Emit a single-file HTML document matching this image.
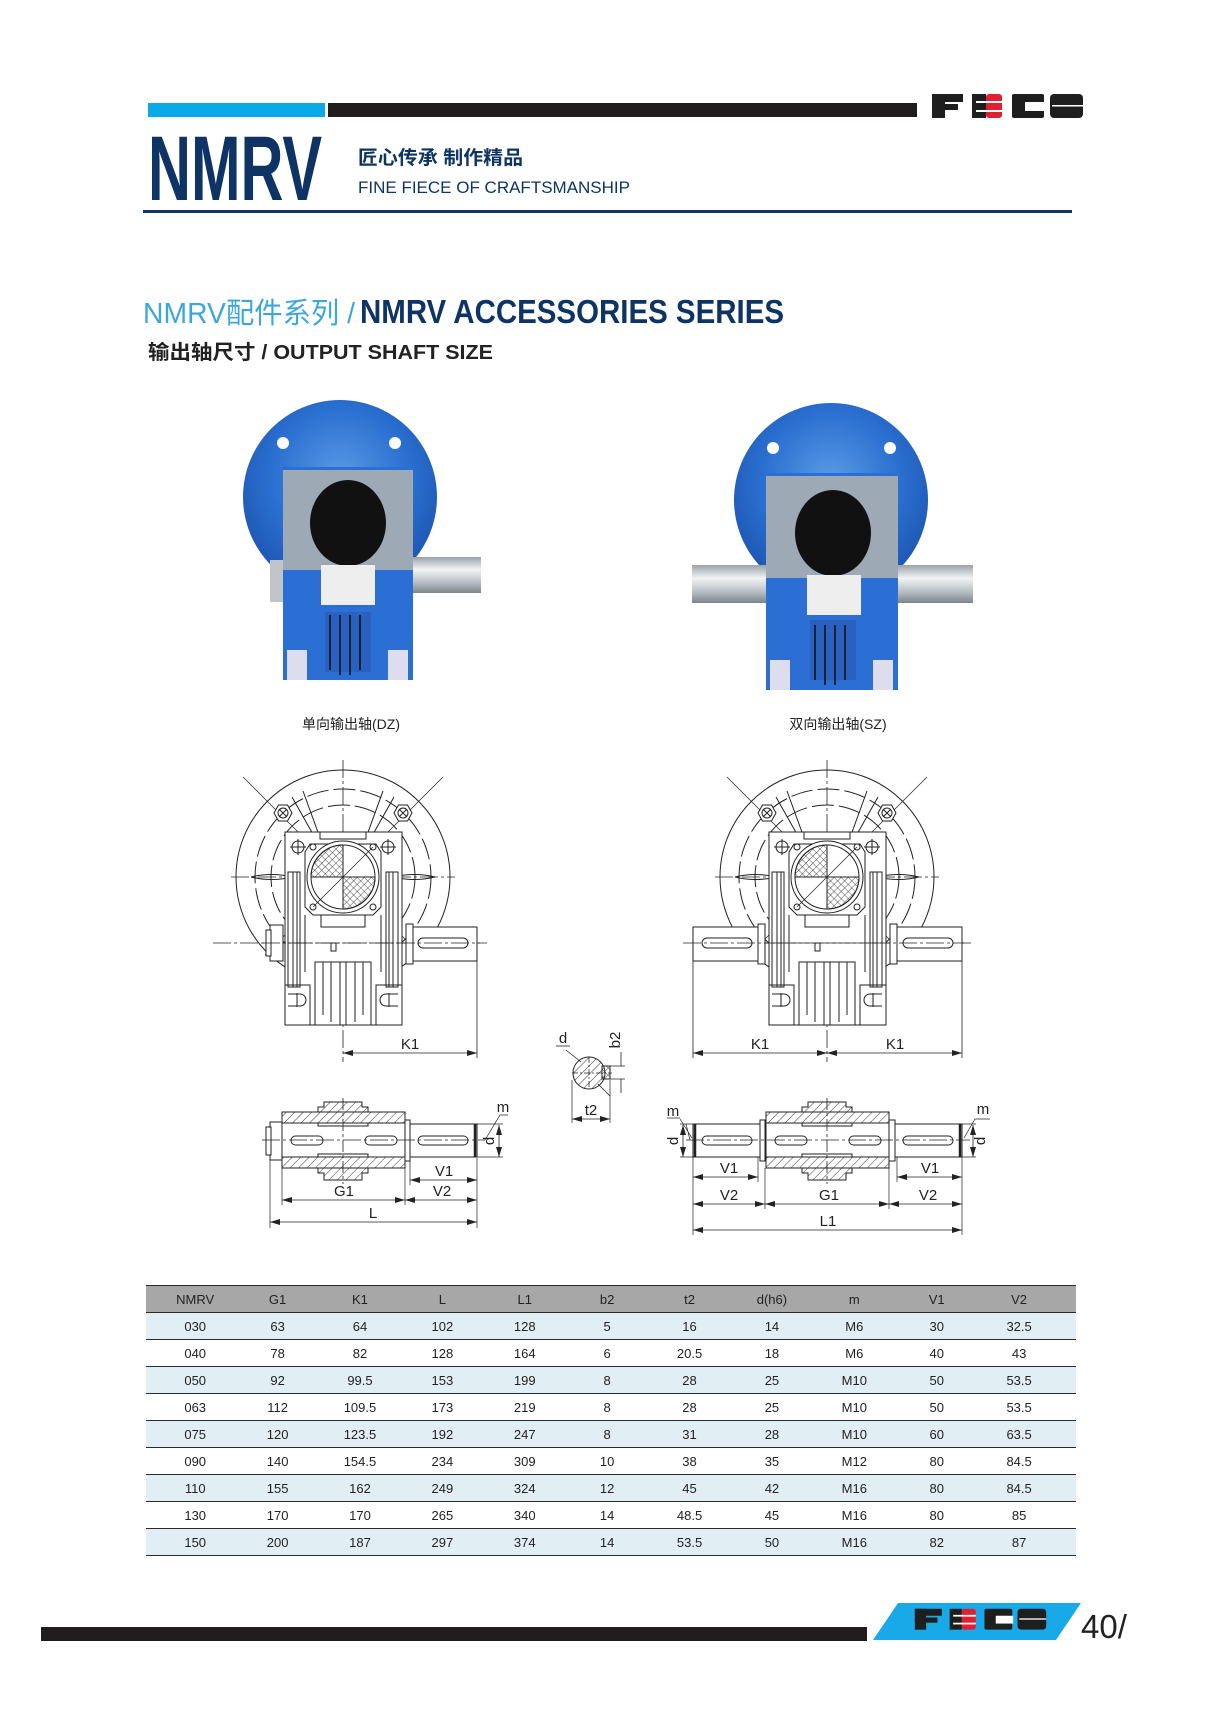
<!DOCTYPE html>
<html><head><meta charset="utf-8"><style>
html,body{margin:0;padding:0;background:#fff;}
body{width:1208px;height:1719px;position:relative;overflow:hidden;}
svg{position:absolute;left:0;top:0;}
table{position:absolute;left:146px;top:1285px;width:930px;border-collapse:collapse;font-family:"Liberation Sans Narrow","Liberation Sans",sans-serif;font-size:13px;color:#222;table-layout:fixed;}
td{height:26px;text-align:center;padding:0;border-bottom:1.3px solid #2a2a2a;}
tr.h td{background:#a8a7a7;border-top:1.5px solid #2a2a2a;height:26px;}
tr.a td{background:#e1eef4;}
</style></head><body>
<svg width="1208" height="1719" viewBox="0 0 1208 1719" xmlns="http://www.w3.org/2000/svg">
<defs>
<pattern id="hat" width="6" height="6" patternUnits="userSpaceOnUse" patternTransform="rotate(45)"><line x1="0" y1="0" x2="0" y2="6" stroke="#222" stroke-width="0.9"/></pattern>
<pattern id="xh" width="5" height="5" patternUnits="userSpaceOnUse" patternTransform="rotate(45)"><path d="M0 0V5M0 0H5" stroke="#222" stroke-width="0.8" fill="none"/></pattern>
<marker id="ar" markerWidth="10" markerHeight="6" refX="10" refY="3" orient="auto-start-reverse" markerUnits="userSpaceOnUse"><path d="M0 0L10 3L0 6z" fill="#222"/></marker>
<radialGradient id="blue" cx="0.5" cy="0.4" r="0.6"><stop offset="0" stop-color="#5a9ae6"/><stop offset="0.6" stop-color="#2a6fd0"/><stop offset="1" stop-color="#1d55b0"/></radialGradient>
<linearGradient id="steel" x1="0" y1="0" x2="0" y2="1"><stop offset="0" stop-color="#9aa3aa"/><stop offset="0.35" stop-color="#f2f4f5"/><stop offset="0.7" stop-color="#b8bfc4"/><stop offset="1" stop-color="#7d868c"/></linearGradient>
<g id="logo">
<rect x="932" y="94" width="13" height="24" fill="#1e1e1e"/><rect x="932" y="94" width="31" height="8" fill="#1e1e1e"/><rect x="932" y="104" width="26" height="6" fill="#1e1e1e"/>
<rect x="972" y="94" width="14" height="24" fill="#1e1e1e"/><rect x="986" y="94" width="16" height="24" rx="3" fill="#e02030"/>
<rect x="976" y="101" width="26" height="2" fill="#fff"/><rect x="976" y="110" width="26" height="2" fill="#fff"/>
<rect x="1012" y="94" width="32" height="24" rx="2" fill="#1e1e1e"/><rect x="1025" y="102" width="20" height="9" fill="#fff"/>
<rect x="1050" y="94" width="33" height="24" rx="4" fill="#1e1e1e"/><rect x="1052" y="105" width="31" height="1.5" fill="#fff"/>
</g>
<g id="front" fill="none" stroke="#222" stroke-width="1">
<circle r="107" fill="#fff"/>
<circle r="88" stroke-dasharray="22 5"/>
<circle r="72" stroke-dasharray="22 5"/>
<line x1="0" y1="-117" x2="0" y2="185" stroke-dasharray="18 3 3 3" stroke-width="0.8"/>
<line x1="-112" y1="0" x2="112" y2="0" stroke-dasharray="18 3 3 3" stroke-width="0.8"/>
<line x1="-78" y1="-78" x2="78" y2="78" stroke-width="0.7"/><line x1="78" y1="-78" x2="-78" y2="78" stroke-width="0.7"/>
<line x1="-78" y1="-78" x2="-100" y2="-100" stroke-width="0.7"/><line x1="78" y1="-78" x2="100" y2="-100" stroke-width="0.7"/>
<path d="M-51 -80 L-29 -41 M-40 -86 L-24 -42 M51 -80 L29 -41 M40 -86 L24 -42"/>
<path d="M-92 0 Q-72 -5 -50 0 Q-72 5 -92 0Z M92 0 Q72 -5 50 0 Q72 5 92 0Z"/>
<g transform="translate(-60,-64)" fill="#fff"><polygon points="-9,0 -4.5,-8 4.5,-8 9,0 4.5,8 -4.5,8"/><circle r="5"/><path d="M-3.5 -3.5L3.5 3.5M3.5 -3.5L-3.5 3.5"/></g>
<g transform="translate(60,-64)" fill="#fff"><polygon points="-9,0 -4.5,-8 4.5,-8 9,0 4.5,8 -4.5,8"/><circle r="5"/><path d="M-3.5 -3.5L3.5 3.5M3.5 -3.5L-3.5 3.5"/></g>
<rect x="-58" y="-45" width="117" height="193" fill="#fff"/>
<path d="M-23 -45 L-23 -38 L23 -38 L23 -45"/>
<path d="M-33 -33 L33 -33 L38 -25 L38 30 L30 38 L-30 38 L-38 30 L-38 -25Z"/>
<circle r="36" fill="#fff"/><circle r="32" fill="#fff"/>
<path d="M-32 0 A32 32 0 0 1 0 -32 L0 0Z" fill="url(#xh)"/>
<path d="M32 0 A32 32 0 0 1 0 32 L0 0Z" fill="url(#xh)"/>
<line x1="-30" y1="30" x2="30" y2="-30" stroke-width="0.7"/>
<circle cx="-30" cy="-30" r="3"/><circle cx="30" cy="-30" r="3"/><circle cx="-30" cy="30" r="3"/><circle cx="30" cy="30" r="3"/>
<circle cx="-45" cy="-30" r="6"/><path d="M-53 -30H-37M-45 -38V-22"/>
<circle cx="45" cy="-30" r="6"/><path d="M37 -30H53M45 -38V-22"/>
<rect x="-55" y="-5" width="12" height="115"/><rect x="43" y="-5" width="12" height="115"/>
<rect x="-50" y="-5" width="4" height="115"/><rect x="46" y="-5" width="4" height="115"/>
<path d="M-38 38 V95 M38 38 V95"/>
<rect x="-22" y="38" width="44" height="12"/>
<rect x="-12" y="66" width="5" height="8"/>
<rect x="-28" y="85" width="56" height="63"/>
<path d="M-20 85V138M-12 85V145M-3 85V148M3 85V148M12 85V145M20 85V138"/>
<rect x="-58" y="108" width="25" height="40"/><rect x="33" y="108" width="26" height="40"/>
<path d="M-55 117 h12 a6 6 0 0 1 0 12 h-12 M-46 116V130"/>
<path d="M55 117 h-12 a6 6 0 0 0 0 12 h12 M46 116V130"/>
<line x1="-130" y1="66" x2="140" y2="66" stroke-dasharray="18 3 3 3" stroke-width="0.8"/>
</g>
<g id="lower" fill="none" stroke="#222" stroke-width="1">
<path d="M-61 -28 H-25 V-33 H-19 V-38 H19 V-33 H25 V-28 H62 V-17 H-61Z" fill="url(#hat)"/>
<path d="M-61 28 H-25 V33 H-19 V40 H19 V33 H25 V28 H62 V17 H-61Z" fill="url(#hat)"/>
<rect x="-61" y="-28" width="123" height="56"/>
<path d="M-25 -17 V-14 H25 V-17 M-25 17 V14 H25 V17"/>
<line x1="0" y1="-42" x2="0" y2="44" stroke-dasharray="12 3 3 3" stroke-width="0.8"/>
<rect x="-52" y="-4" width="32" height="9" rx="4.5"/><rect x="22" y="-4" width="32" height="9" rx="4.5"/>
</g>
</defs>

<!-- header -->
<rect x="148" y="103" width="177" height="14" fill="#0aaaea"/>
<rect x="328" y="103" width="589" height="14" fill="#1f1d1d"/>
<use href="#logo"/>
<text x="148" y="200" font-family="Liberation Sans Narrow, Liberation Sans, sans-serif" font-weight="bold" font-size="92" fill="#0d3464" textLength="174" lengthAdjust="spacingAndGlyphs">NMRV</text>
<text x="358" y="164" font-family="Liberation Sans, Noto Sans CJK SC, sans-serif" font-weight="bold" font-size="19" fill="#0d3464" textLength="165" lengthAdjust="spacingAndGlyphs">匠心传承 制作精品</text>
<text x="358" y="193" font-family="Liberation Sans, sans-serif" font-size="17" fill="#0d3464" textLength="272" lengthAdjust="spacingAndGlyphs">FINE FIECE OF CRAFTSMANSHIP</text>
<rect x="143" y="210" width="929" height="3" fill="#0d3464"/>
<text x="143" y="323" font-family="Liberation Sans, Noto Sans CJK SC, sans-serif" font-size="29" fill="#3ea6de" textLength="212" lengthAdjust="spacingAndGlyphs">NMRV配件系列 /</text>
<text x="360" y="323" font-family="Liberation Sans Narrow, Liberation Sans, sans-serif" font-weight="bold" font-size="33" fill="#0d3464" textLength="424" lengthAdjust="spacingAndGlyphs">NMRV ACCESSORIES SERIES</text>
<text x="148" y="359" font-family="Liberation Sans, Noto Sans CJK SC, sans-serif" font-weight="bold" font-size="20" fill="#222" textLength="345" lengthAdjust="spacingAndGlyphs">输出轴尺寸 / OUTPUT SHAFT SIZE</text>

<!-- photos -->
<g>
<circle cx="340" cy="497" r="97" fill="url(#blue)"/>
<circle cx="283" cy="443" r="6" fill="#fff"/><circle cx="395" cy="443" r="6" fill="#fff"/>
<rect x="270" y="560" width="14" height="42" fill="#bfc5c9"/>
<rect x="410" y="557" width="71" height="36" fill="url(#steel)"/>
<rect x="283" y="467" width="130" height="213" fill="#2c6fd4"/>
<rect x="283" y="470" width="130" height="100" fill="#9ea9b6"/>
<ellipse cx="348" cy="523" rx="38" ry="43" fill="#111"/>
<rect x="321" y="565" width="54" height="40" fill="#eee"/>
<rect x="325" y="612" width="46" height="60" fill="#2a60c0"/>
<path d="M330 615V670M340 615V675M350 615V675M360 615V670" stroke="#123" stroke-width="2"/>
<rect x="287" y="650" width="20" height="30" fill="#dde"/><rect x="388" y="650" width="20" height="30" fill="#dde"/>
</g>
<g>
<circle cx="831" cy="500" r="97" fill="url(#blue)"/>
<circle cx="773" cy="448" r="6" fill="#fff"/><circle cx="890" cy="448" r="6" fill="#fff"/>
<rect x="692" y="565" width="74" height="38" fill="url(#steel)"/>
<rect x="896" y="565" width="77" height="38" fill="url(#steel)"/>
<rect x="766" y="473" width="132" height="217" fill="#2c6fd4"/>
<rect x="766" y="476" width="132" height="102" fill="#9ea9b6"/>
<ellipse cx="833" cy="533" rx="38" ry="43" fill="#111"/>
<rect x="807" y="575" width="54" height="40" fill="#eee"/>
<rect x="810" y="620" width="46" height="60" fill="#2a60c0"/>
<path d="M815 625V680M825 625V685M835 625V685M845 625V680" stroke="#123" stroke-width="2"/>
<rect x="770" y="660" width="20" height="30" fill="#dde"/><rect x="873" y="660" width="20" height="30" fill="#dde"/>
</g>
<text x="351" y="729" text-anchor="middle" font-family="Liberation Sans, Noto Sans CJK SC, sans-serif" font-size="14" fill="#222">单向输出轴(DZ)</text>
<text x="838" y="729" text-anchor="middle" font-family="Liberation Sans, Noto Sans CJK SC, sans-serif" font-size="14" fill="#222">双向输出轴(SZ)</text>

<!-- front views -->
<use href="#front" transform="translate(343,877)"/>
<use href="#front" transform="translate(827,877)"/>
<g fill="#fff" stroke="#222" stroke-width="1">
<rect x="270" y="925" width="13" height="36"/><rect x="266" y="930" width="5" height="26"/>
<rect x="412" y="927" width="65" height="34"/><rect x="406" y="924" width="7" height="40"/>
<rect x="693" y="927" width="65" height="34"/><rect x="758" y="924" width="7" height="40"/>
<rect x="897" y="927" width="65" height="34"/><rect x="890" y="924" width="7" height="40"/>
</g>
<g fill="none" stroke="#222" stroke-width="1">
<rect x="418" y="938" width="50" height="10" rx="5"/><rect x="702" y="938" width="50" height="10" rx="5"/><rect x="903" y="938" width="50" height="10" rx="5"/>
<line x1="262" y1="943" x2="487" y2="943" stroke-dasharray="18 3 3 3" stroke-width="0.8"/>
<line x1="683" y1="943" x2="972" y2="943" stroke-dasharray="18 3 3 3" stroke-width="0.8"/>
<path d="M477 961V1058M693 961V1058M962 961V1058" stroke-width="0.8"/>
<line x1="343" y1="1053" x2="477" y2="1053" marker-start="url(#ar)" marker-end="url(#ar)" stroke-width="0.8"/>
<line x1="693" y1="1053" x2="827" y2="1053" marker-start="url(#ar)" marker-end="url(#ar)" stroke-width="0.8"/>
<line x1="827" y1="1053" x2="962" y2="1053" marker-start="url(#ar)" marker-end="url(#ar)" stroke-width="0.8"/>
</g>
<g font-family="Liberation Sans Narrow, Liberation Sans, sans-serif" font-size="15" fill="#222" text-anchor="middle">
<text x="410" y="1049">K1</text><text x="760" y="1049">K1</text><text x="895" y="1049">K1</text>
</g>

<!-- key section -->
<g fill="none" stroke="#222" stroke-width="1">
<circle cx="589" cy="1073" r="16" fill="url(#hat)"/>
<rect x="602" y="1066" width="8" height="13" fill="url(#xh)"/>
<path d="M572 1073H612M589 1057V1089" stroke-dasharray="6 2 2 2" stroke-width="0.7"/>
<path d="M566 1050L581 1062M598 1084L610 1096" stroke-width="0.8"/>
<path d="M572 1080V1123M610 1080V1123M610 1066H625M610 1079H625" stroke-width="0.7"/>
<line x1="572" y1="1119" x2="610" y2="1119" marker-start="url(#ar)" marker-end="url(#ar)" stroke-width="0.8"/>
<path d="M621 1052V1066M621 1079V1093" stroke-width="0.8"/>
<path d="M556 1046H570" stroke-width="0.8"/>
</g>
<text x="563" y="1043" font-family="Liberation Sans, sans-serif" font-size="15" fill="#222" text-anchor="middle">d</text>
<text x="591" y="1115" font-family="Liberation Sans, sans-serif" font-size="15" fill="#222" text-anchor="middle">t2</text>
<text transform="translate(620,1040) rotate(-90)" font-family="Liberation Sans, sans-serif" font-size="15" fill="#222" text-anchor="middle">b2</text>

<!-- lower views -->
<use href="#lower" transform="translate(343,1140)"/>
<use href="#lower" transform="translate(827,1140)"/>
<g fill="#fff" stroke="#222" stroke-width="1">
<rect x="270" y="1122" width="12" height="38"/><rect x="266" y="1127" width="5" height="28"/>
<rect x="410" y="1124" width="67" height="33"/><rect x="405" y="1120" width="5" height="41"/>
<rect x="693" y="1124" width="67" height="33"/><rect x="760" y="1120" width="5" height="41"/>
<rect x="895" y="1124" width="67" height="33"/><rect x="889" y="1120" width="6" height="41"/>
</g>
<g fill="none" stroke="#222" stroke-width="1">
<rect x="418" y="1136" width="50" height="9" rx="4.5"/><rect x="702" y="1136" width="50" height="9" rx="4.5"/><rect x="903" y="1136" width="50" height="9" rx="4.5"/>
<path d="M475 1124V1157M695 1124V1157M960 1124V1157" stroke-width="2.5"/>
<line x1="262" y1="1140" x2="485" y2="1140" stroke-dasharray="18 3 3 3" stroke-width="0.8"/>
<line x1="686" y1="1140" x2="970" y2="1140" stroke-dasharray="18 3 3 3" stroke-width="0.8"/>
<path d="M270 1160V1228M282 1168V1205M405 1168V1205M410 1158V1185M477 1158V1228" stroke-width="0.7"/>
<path d="M693 1157V1235M758 1157V1182M765 1168V1209M889 1168V1209M897 1157V1182M962 1157V1235" stroke-width="0.7"/>
<path d="M477 1124H503M477 1157H503M485 1140L500 1115H508" stroke-width="0.7"/>
<line x1="499" y1="1125" x2="499" y2="1157" marker-start="url(#ar)" marker-end="url(#ar)" stroke-width="0.8"/>
<path d="M693 1124H680M693 1157H680M686 1124L690 1140M680 1118L667 1118M692 1138L680 1119" stroke-width="0.7"/>
<line x1="683" y1="1125" x2="683" y2="1157" marker-start="url(#ar)" marker-end="url(#ar)" stroke-width="0.8"/>
<path d="M962 1124H976M962 1157H976M964 1138L975 1119H990" stroke-width="0.7"/>
<line x1="973" y1="1125" x2="973" y2="1157" marker-start="url(#ar)" marker-end="url(#ar)" stroke-width="0.8"/>
<g stroke-width="0.8" marker-start="url(#ar)" marker-end="url(#ar)">
<line x1="410" y1="1180" x2="477" y2="1180"/>
<line x1="282" y1="1200" x2="405" y2="1200"/><line x1="405" y1="1200" x2="477" y2="1200"/>
<line x1="270" y1="1222" x2="477" y2="1222"/>
<line x1="693" y1="1177" x2="758" y2="1177"/><line x1="897" y1="1177" x2="962" y2="1177"/>
<line x1="693" y1="1204" x2="765" y2="1204"/><line x1="765" y1="1204" x2="889" y2="1204"/><line x1="889" y1="1204" x2="962" y2="1204"/>
<line x1="693" y1="1230" x2="962" y2="1230"/>
</g>
</g>
<g font-family="Liberation Sans Narrow, Liberation Sans, sans-serif" font-size="15" fill="#222" text-anchor="middle">
<text x="444" y="1176">V1</text><text x="442" y="1196">V2</text><text x="344" y="1196">G1</text><text x="373" y="1218">L</text>
<text x="729" y="1173">V1</text><text x="930" y="1173">V1</text>
<text x="729" y="1200">V2</text><text x="829" y="1200">G1</text><text x="928" y="1200">V2</text><text x="828" y="1226">L1</text>
<text x="503" y="1112">m</text><text x="673" y="1116">m</text><text x="983" y="1114">m</text>
<text transform="translate(494,1141) rotate(-90)">d</text>
<text transform="translate(678,1141) rotate(-90)">d</text>
<text transform="translate(985,1141) rotate(-90)">d</text>
</g>

<!-- footer -->
<rect x="41" y="1627" width="826" height="14" fill="#1f1d1d"/>
<polygon points="898,1603 1081,1603 1056,1640 873,1640" fill="#1aa9e8"/>
<use href="#logo" transform="translate(104,1527) scale(0.87)"/>
<text x="1081" y="1638" font-family="Liberation Sans, sans-serif" font-size="33" fill="#222">40/</text>
</svg>

<table>
<colgroup><col style="width:8px"><col span="11" style="width:82.4px"><col style="width:15.6px"></colgroup>
<tr class="h"><td></td><td>NMRV</td><td>G1</td><td>K1</td><td>L</td><td>L1</td><td>b2</td><td>t2</td><td>d(h6)</td><td>m</td><td>V1</td><td>V2</td><td></td></tr>
<tr class="a"><td></td><td>030</td><td>63</td><td>64</td><td>102</td><td>128</td><td>5</td><td>16</td><td>14</td><td>M6</td><td>30</td><td>32.5</td><td></td></tr>
<tr><td></td><td>040</td><td>78</td><td>82</td><td>128</td><td>164</td><td>6</td><td>20.5</td><td>18</td><td>M6</td><td>40</td><td>43</td><td></td></tr>
<tr class="a"><td></td><td>050</td><td>92</td><td>99.5</td><td>153</td><td>199</td><td>8</td><td>28</td><td>25</td><td>M10</td><td>50</td><td>53.5</td><td></td></tr>
<tr><td></td><td>063</td><td>112</td><td>109.5</td><td>173</td><td>219</td><td>8</td><td>28</td><td>25</td><td>M10</td><td>50</td><td>53.5</td><td></td></tr>
<tr class="a"><td></td><td>075</td><td>120</td><td>123.5</td><td>192</td><td>247</td><td>8</td><td>31</td><td>28</td><td>M10</td><td>60</td><td>63.5</td><td></td></tr>
<tr><td></td><td>090</td><td>140</td><td>154.5</td><td>234</td><td>309</td><td>10</td><td>38</td><td>35</td><td>M12</td><td>80</td><td>84.5</td><td></td></tr>
<tr class="a"><td></td><td>110</td><td>155</td><td>162</td><td>249</td><td>324</td><td>12</td><td>45</td><td>42</td><td>M16</td><td>80</td><td>84.5</td><td></td></tr>
<tr><td></td><td>130</td><td>170</td><td>170</td><td>265</td><td>340</td><td>14</td><td>48.5</td><td>45</td><td>M16</td><td>80</td><td>85</td><td></td></tr>
<tr class="a"><td></td><td>150</td><td>200</td><td>187</td><td>297</td><td>374</td><td>14</td><td>53.5</td><td>50</td><td>M16</td><td>82</td><td>87</td><td></td></tr>
</table>
</body></html>
